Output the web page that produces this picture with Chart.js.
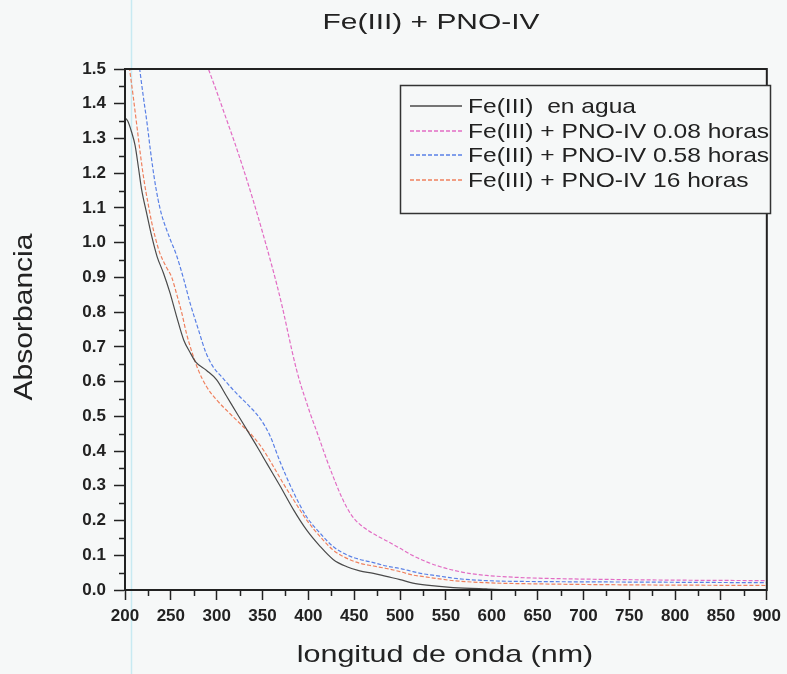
<!DOCTYPE html>
<html><head><meta charset="utf-8">
<script src="https://cdn.jsdelivr.net/npm/chart.js@4.4.1/dist/chart.umd.min.js"></script>
<style>html,body{margin:0;padding:0;background:#f6f8f8;} canvas{display:block;}</style>
</head><body>
<canvas id="c" width="787" height="674"></canvas>
<script>
const titleText = 'Fe(III) + PNO-IV';
const xTitle = 'longitud de onda (nm)';
const yTitle = 'Absorbancia';
const seriesLabels = ['Fe(III)  en agua', 'Fe(III) + PNO-IV 0.08 horas', 'Fe(III) + PNO-IV 0.58 horas', 'Fe(III) + PNO-IV 16 horas'];

const aguaNm  = [200,203,207,211,215,218,224,229,235,242,249,256,264,271,277,289,300,311,322,333,344,355,369,384,398,413,427,442,456,471,485,500,514,529,558,594,620,700,800,900];
const aguaAbs = [1.36,1.35,1.32,1.28,1.21,1.155,1.08,1.02,0.96,0.912,0.856,0.79,0.72,0.684,0.657,0.632,0.605,0.557,0.509,0.461,0.413,0.363,0.300,0.230,0.173,0.125,0.088,0.067,0.055,0.048,0.039,0.030,0.020,0.014,0.007,0.003,0.001,0,0,0];

const h008Nm  = [289,291,300,310,320,330,340,350,360,366,372,377,382,387,392,397,402,410,420,428,435,442,450,458,466,475,485,500,514,529,544,558,575,594,630,667,740,820,900];
const h008Abs = [1.515,1.50,1.435,1.36,1.285,1.205,1.12,1.03,0.935,0.875,0.81,0.75,0.69,0.635,0.588,0.548,0.508,0.45,0.375,0.32,0.275,0.237,0.205,0.185,0.17,0.156,0.142,0.12,0.099,0.081,0.067,0.057,0.048,0.042,0.036,0.033,0.030,0.028,0.027];

const h058Nm  = [215,216,220,224,228,232,236,240,245,250,256,264,271,280,288,296,305,311,318,325,336,347,358,369,384,398,413,427,442,456,471,485,500,514,522,543,558,594,667,740,900];
const h058Abs = [1.52,1.50,1.42,1.345,1.26,1.185,1.125,1.08,1.04,1.005,0.965,0.895,0.826,0.75,0.685,0.643,0.615,0.597,0.576,0.557,0.528,0.495,0.445,0.37,0.28,0.211,0.163,0.125,0.101,0.088,0.079,0.069,0.062,0.053,0.048,0.040,0.034,0.027,0.024,0.023,0.021];

const h16Nm  = [203,205,209,213,217,221,225,229,233,238,245,251,256,262,267,273,280,289,300,314,329,340,351,362,373,384,398,413,427,442,456,471,485,500,514,522,543,558,594,667,740,900];
const h16Abs = [1.54,1.50,1.42,1.335,1.25,1.175,1.115,1.06,1.015,0.97,0.93,0.9,0.855,0.797,0.739,0.685,0.633,0.585,0.547,0.509,0.470,0.441,0.403,0.355,0.305,0.259,0.202,0.153,0.115,0.091,0.077,0.069,0.062,0.053,0.043,0.040,0.032,0.027,0.021,0.017,0.015,0.013];

const xMin = 200, xMax = 900, xStep = 50;
const yMin = 0, yMax = 1.5, yStep = 0.1;

const colors = ['#4a4a4a', '#e26cc4', '#5a80e6', '#ef805e'];
const dashes = [[], [4,2], [4,2], [4,2]];
const FONT = '"Liberation Sans", Arial, sans-serif';
const INK = '#222222';

function pts(xs, ys){ return xs.map((x,i)=>({x:x, y:ys[i]})); }
const seriesData = [pts(aguaNm,aguaAbs), pts(h008Nm,h008Abs), pts(h058Nm,h058Abs), pts(h16Nm,h16Abs)];

function drawText(ctx, text, x, y, size, sx, align, weight){
  ctx.save();
  ctx.translate(x, y);
  ctx.scale(sx, 1);
  ctx.font = (weight||'normal') + ' ' + size + 'px ' + FONT;
  ctx.textAlign = align;
  ctx.textBaseline = 'alphabetic';
  ctx.fillStyle = INK;
  ctx.fillText(text, 0, 0);
  ctx.restore();
}

const decor = {
  id: 'decor',
  beforeDraw(chart){
    const ctx = chart.ctx;
    ctx.save();
    ctx.fillStyle = '#f6f8f8';
    ctx.fillRect(0,0,chart.width,chart.height);
    ctx.strokeStyle = 'rgba(170,225,238,0.6)';
    ctx.lineWidth = 1.5;
    ctx.beginPath(); ctx.moveTo(131.5,0); ctx.lineTo(131.5,chart.height); ctx.stroke();
    ctx.restore();
  },
  afterDraw(chart){
    const ctx = chart.ctx;
    const a = chart.chartArea;
    const xs = chart.scales.x, ys = chart.scales.y;
    ctx.save();
    ctx.strokeStyle = INK; ctx.lineWidth = 2;
    ctx.strokeRect(a.left, a.top, a.right - a.left, a.bottom - a.top);
    ctx.lineWidth = 1.5;
    ctx.beginPath();
    for (let v = yMin + yStep/2; v < yMax; v += yStep){
      const p = Math.round(ys.getPixelForValue(v)) + 0.5;
      ctx.moveTo(a.left, p); ctx.lineTo(a.left - 6, p);
    }
    for (let v = xMin + xStep/2; v < xMax; v += xStep){
      const p = Math.round(xs.getPixelForValue(v)) + 0.5;
      ctx.moveTo(p, a.bottom); ctx.lineTo(p, a.bottom + 6);
    }
    ctx.stroke();
    drawText(ctx, titleText, 431, 29, 22, 1.36, 'center');
    drawText(ctx, xTitle, 445, 662, 24, 1.27, 'center');
    ctx.save();
    ctx.translate(32, 317);
    ctx.rotate(-Math.PI/2);
    drawText(ctx, yTitle, 0, 0, 26, 1.155, 'center');
    ctx.restore();
    ctx.fillStyle = '#f6f8f8';
    ctx.fillRect(400, 85, 371, 128);
    ctx.strokeStyle = '#333'; ctx.lineWidth = 1.5;
    ctx.strokeRect(400.5, 85.5, 370, 128);
    const rows = [113, 138, 162, 187];
    chart.data.datasets.forEach((ds, i) => {
      const y = rows[i] - 7;
      ctx.save();
      ctx.strokeStyle = ds.borderColor; ctx.lineWidth = 1.3;
      ctx.setLineDash(ds.borderDash || []);
      ctx.beginPath(); ctx.moveTo(410, y); ctx.lineTo(462, y); ctx.stroke();
      ctx.restore();
      drawText(ctx, ds.label, 468, rows[i], 21, 1.17, 'left');
    });
    ctx.restore();
  }
};

new Chart(document.getElementById('c'), {
  type: 'line',
  data: {
    datasets: seriesLabels.map((lab, i) => ({
      label: lab,
      data: seriesData[i],
      borderColor: colors[i],
      borderWidth: 1.2,
      borderDash: dashes[i],
      pointRadius: 0,
      fill: false,
      cubicInterpolationMode: 'monotone'
    }))
  },
  options: {
    responsive: false,
    animation: false,
    devicePixelRatio: 1,
    layout: { padding: { left: 0, right: 20, top: 69, bottom: 0 } },
    plugins: { legend: { display: false }, title: { display: false }, tooltip: { enabled: false } },
    scales: {
      x: {
        type: 'linear', min: xMin, max: xMax,
        ticks: { stepSize: xStep, autoSkip: false, maxRotation: 0, padding: 6, color: INK,
                 font: { family: FONT, size: 17, weight: 'bold' } },
        grid: { display: true, drawOnChartArea: false, drawTicks: true, tickLength: 10, tickColor: INK, tickWidth: 1.5 },
        border: { display: true, color: INK, width: 2 },
        afterFit: s => { s.height = 84; }
      },
      y: {
        type: 'linear', min: yMin, max: yMax,
        ticks: { stepSize: yStep, padding: 8, color: INK, callback: v => Number(v).toFixed(1),
                 font: { family: FONT, size: 17, weight: 'bold' } },
        grid: { display: true, drawOnChartArea: false, drawTicks: true, tickLength: 11, tickColor: INK, tickWidth: 1.5 },
        border: { display: true, color: INK, width: 2 },
        afterFit: s => { s.width = 125; }
      }
    }
  },
  plugins: [decor]
});
</script>
</body></html>
